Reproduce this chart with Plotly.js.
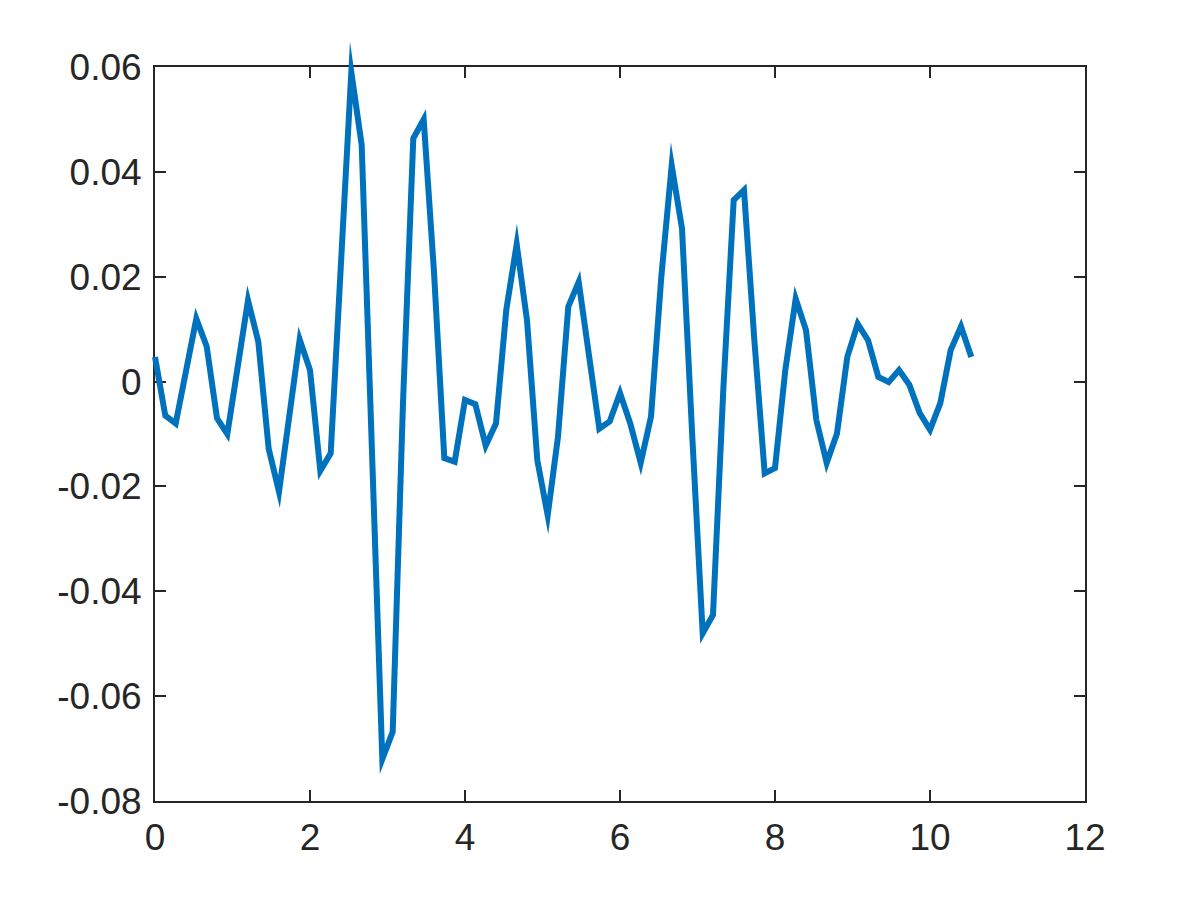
<!DOCTYPE html>
<html>
<head>
<meta charset="utf-8">
<script src="https://cdn.plot.ly/plotly-3.0.1.min.js"></script>
<style>
  html, body { margin: 0; padding: 0; background: #ffffff; }
  #chart { width: 1200px; height: 900px; }
</style>
</head>
<body>
<div id="chart"></div>
<script>
// time samples
const t = [
  0, 0.133, 0.267, 0.4, 0.533, 0.667, 0.8, 0.933, 1.067, 1.2,
  1.333, 1.467, 1.6, 1.733, 1.867, 2, 2.133, 2.267, 2.4, 2.533,
  2.667, 2.8, 2.933, 3.067, 3.2, 3.333, 3.467, 3.6, 3.733, 3.867,
  4, 4.133, 4.267, 4.4, 4.533, 4.667, 4.8, 4.933, 5.067, 5.2,
  5.333, 5.467, 5.6, 5.733, 5.867, 6, 6.133, 6.267, 6.4, 6.533,
  6.667, 6.8, 6.933, 7.067, 7.2, 7.333, 7.467, 7.6, 7.733, 7.867,
  8, 8.133, 8.267, 8.4, 8.533, 8.667, 8.8, 8.933, 9.067, 9.2,
  9.333, 9.467, 9.6, 9.733, 9.867, 10, 10.133, 10.267, 10.4, 10.533
];
// signal values
const signal = [
  0.0047, -0.0065, -0.0080, 0.0022, 0.0120, 0.0067, -0.0070, -0.0100, 0.0030, 0.0155,
  0.0076, -0.0128, -0.0210, -0.0070, 0.0080, 0.0022, -0.0170, -0.0137, 0.0250, 0.0590,
  0.0451, -0.0165, -0.0720, -0.0668, -0.0040, 0.0464, 0.0500, 0.0209, -0.0146, -0.0153,
  -0.0035, -0.0043, -0.0122, -0.0080, 0.0137, 0.0262, 0.0117, -0.0150, -0.0255, -0.0105,
  0.0143, 0.0190, 0.0050, -0.0090, -0.0076, -0.0022, -0.0080, -0.0155, -0.0067, 0.0200,
  0.0412, 0.0292, -0.0106, -0.0480, -0.0445, -0.0015, 0.0346, 0.0365, 0.0080, -0.0175,
  -0.0165, 0.0022, 0.0158, 0.0098, -0.0073, -0.0155, -0.0099, 0.0047, 0.0110, 0.0079,
  0.0009, -0.0001, 0.0022, -0.0006, -0.0060, -0.0092, -0.0041, 0.0060, 0.0105, 0.0047
];
// tick labels
const xTickVals = [0, 2, 4, 6, 8, 10, 12];
const xTickText = ['0', '2', '4', '6', '8', '10', '12'];
const yTickVals = [-0.08, -0.06, -0.04, -0.02, 0, 0.02, 0.04, 0.06];
const yTickText = ['-0.08', '-0.06', '-0.04', '-0.02', '0', '0.02', '0.04', '0.06'];

const axisColor = '#262626';
const fontFamily = 'Liberation Sans, Arial, Helvetica, sans-serif';

const data = [{
  type: 'scatter',
  mode: 'lines',
  x: t,
  y: signal,
  line: { color: '#0072BD', width: 6 },
  cliponaxis: false,
  hoverinfo: 'skip'
}];

const commonAxis = {
  showgrid: false,
  zeroline: false,
  showline: true,
  mirror: 'ticks',
  linecolor: axisColor,
  linewidth: 2,
  ticks: 'inside',
  ticklen: 11,
  tickwidth: 2,
  tickcolor: axisColor,
  tickfont: { family: fontFamily, size: 37, color: axisColor },
  tickmode: 'array',
  layer: 'below traces'
};

const layout = {
  width: 1200,
  height: 900,
  paper_bgcolor: '#ffffff',
  plot_bgcolor: '#ffffff',
  showlegend: false,
  margin: { l: 155, r: 115, t: 67, b: 99, pad: 0 },
  xaxis: Object.assign({}, commonAxis, {
    range: [0, 12],
    tickvals: xTickVals,
    ticktext: xTickText,
    ticklabelstandoff: 3
  }),
  yaxis: Object.assign({}, commonAxis, {
    range: [-0.08, 0.06],
    tickvals: yTickVals,
    ticktext: yTickText,
    ticklabelstandoff: 4
  })
};

Plotly.newPlot('chart', data, layout, { staticPlot: true, displayModeBar: false }).then(function (gd) {
  // let the sharp MATLAB-style miter tips poke past the frame, as in the reference
  gd.querySelectorAll('.scatterlayer [clip-path], .cartesianlayer [clip-path]').forEach(function (el) {
    el.removeAttribute('clip-path');
  });
  gd.querySelectorAll('.scatterlayer path.js-line').forEach(function (p) {
    p.style.strokeLinejoin = 'miter';
    p.style.strokeMiterlimit = '60';
  });
});
</script>
</body>
</html>
